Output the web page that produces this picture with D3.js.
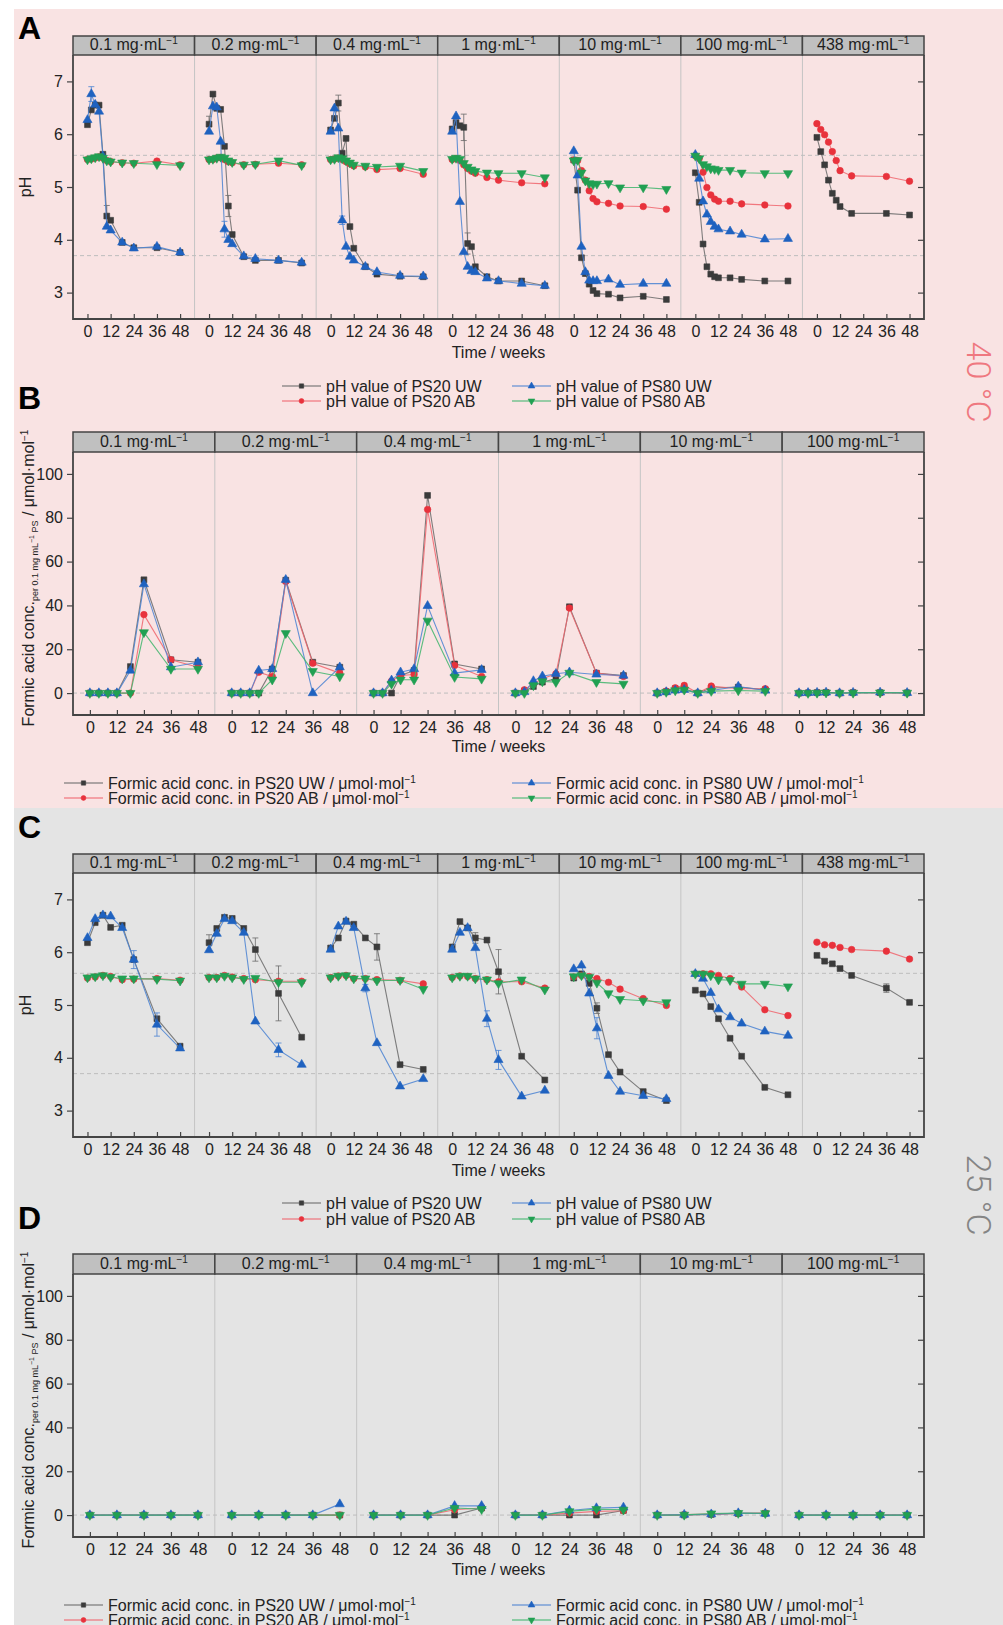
<!DOCTYPE html>
<html><head><meta charset="utf-8">
<script src="https://cdn.jsdelivr.net/npm/d3@7"></script>
<style>
body{margin:0;background:#fff;}
svg{display:block;font-family:"Liberation Sans",Arial,Helvetica,sans-serif;}
</style>
</head><body>
<svg id="c" width="1003" height="1625"></svg>
<script>
// ---------- time points (weeks) ----------
const tA = [0,2,4,6,8,10,12,18,24,36,48];
const tA438 = [0,2,4,6,8,10,12,18,36,48];
const tB = [0,4,8,12,18,24,36,48];
const tC = [0,4,8,12,18,24,36,48];
const tC438 = [0,4,8,12,18,36,48];
const tD = [0,12,24,36,48];
const xTicks = [0,12,24,36,48];
const pHTicks = [3,4,5,6,7];
const faTicks = [0,20,40,60,80,100];
const concPH = ["0.1","0.2","0.4","1","10","100","438"];
const concFA = ["0.1","0.2","0.4","1","10","100"];
const phLegend = ["pH value of PS20 UW","pH value of PS20 AB","pH value of PS80 UW","pH value of PS80 AB"];
const faLegend = ["Formic acid conc. in PS20 UW / μmol·mol","Formic acid conc. in PS20 AB / μmol·mol","Formic acid conc. in PS80 UW / μmol·mol","Formic acid conc. in PS80 AB / μmol·mol"];

// ---------- A: pH at 40 °C ----------
const A_PS20UW = [
 [6.18,6.46,6.55,6.55,5.62,4.45,4.37,3.95,3.85,3.85,3.76],
 [6.19,6.76,6.49,6.47,5.77,4.64,4.10,3.68,3.61,3.61,3.56],
 [6.08,6.30,6.59,5.64,5.92,4.25,3.84,3.49,3.35,3.31,3.30],
 [6.10,6.22,6.16,6.13,3.93,3.87,3.49,3.30,3.22,3.22,3.13],
 [5.51,4.94,3.66,3.36,3.16,3.04,2.98,2.97,2.90,2.93,2.87],
 [5.27,4.71,3.92,3.49,3.35,3.30,3.28,3.28,3.25,3.22,3.22],
 [5.94,5.67,5.42,5.13,4.88,4.75,4.63,4.50,4.50,4.47]
];
const A_PS20AB = [
 [5.52,5.53,5.55,5.57,5.55,5.50,5.48,5.46,5.45,5.49,5.42],
 [5.52,5.52,5.55,5.56,5.52,5.48,5.46,5.42,5.43,5.45,5.42],
 [5.52,5.53,5.55,5.52,5.48,5.44,5.40,5.38,5.33,5.35,5.24],
 [5.52,5.54,5.50,5.42,5.35,5.30,5.26,5.18,5.13,5.08,5.06],
 [5.51,5.50,5.31,5.13,4.93,4.78,4.72,4.69,4.64,4.63,4.58],
 [5.59,5.54,5.28,4.99,4.85,4.77,4.73,4.73,4.68,4.66,4.64],
 [6.20,6.09,5.99,5.85,5.67,5.50,5.31,5.21,5.20,5.11]
];
const A_PS80UW = [
 [6.27,6.76,6.56,6.43,5.58,4.25,4.18,3.95,3.84,3.87,3.76],
 [6.05,6.53,6.51,5.86,4.20,4.00,3.92,3.69,3.64,3.61,3.57],
 [6.05,6.49,6.11,4.37,3.87,3.68,3.61,3.49,3.39,3.32,3.31],
 [6.05,6.34,4.72,3.77,3.49,3.41,3.39,3.27,3.22,3.17,3.13],
 [5.68,5.22,3.87,3.39,3.23,3.22,3.22,3.25,3.15,3.17,3.17],
 [5.61,5.16,4.73,4.48,4.34,4.25,4.20,4.16,4.10,4.01,4.02],
 null
];
const A_PS80AB = [
 [5.52,5.54,5.56,5.58,5.55,5.50,5.48,5.46,5.45,5.43,5.41],
 [5.52,5.53,5.55,5.57,5.55,5.50,5.47,5.42,5.43,5.50,5.41],
 [5.52,5.53,5.56,5.54,5.50,5.46,5.42,5.40,5.38,5.40,5.30],
 [5.53,5.55,5.53,5.45,5.38,5.33,5.30,5.27,5.26,5.26,5.18],
 [5.50,5.51,5.27,5.12,5.07,5.05,5.06,5.07,4.99,4.99,4.96],
 [5.59,5.54,5.43,5.39,5.35,5.34,5.32,5.32,5.27,5.26,5.26],
 null
];
// error bars: [panel, point index, +/-]
const errA_PS20UW = [[0,5,0.2],[1,0,0.15],[1,5,0.2],[2,2,0.15],[3,3,0.25],[3,4,0.2]];
const errA_PS80UW = [[0,1,0.14],[1,4,0.15],[2,3,0.08]];

// ---------- B: formic acid at 40 °C ----------
const B_PS20UW = [
 [0,0,0,0,12.1,51.7,15.2,14.1],
 [0,0,0,0,11.0,51.5,14.1,11.8],
 [0,0,0,8.0,10.3,90.2,13.3,11.0],
 [0,0.9,3.0,5.0,6.5,39.4,9.1,8.0],
 [0,0.6,2.0,2.0,0,2.3,2.7,1.5],
 [0,0.1,0.2,0.3,0,0.2,0.2,0.1]
];
const B_PS20AB = [
 [0,0,0,0,0,35.8,15.2,11.8],
 [0,0,0,9.5,7.6,50.9,13.6,9.1],
 [0,0,5.5,8.0,8.5,83.8,12.6,7.6],
 [0,1.5,4.2,6.5,8.8,38.8,9.1,7.6],
 [0,0.9,2.4,3.5,0,3.2,2.0,2.0],
 [0,0.1,0.3,0.4,0,0.3,0.2,0.1]
];
const B_PS80UW = [
 [0,0,0,0,10.3,49.7,11.8,14.1],
 [0,0,0,10.3,11.0,51.7,0,11.8],
 [0,0,5.8,9.5,11.0,39.8,9.1,10.6],
 [0,0.5,5.5,7.7,8.8,9.5,8.5,8.0],
 [0,0.5,1.2,1.5,0,1.2,3.0,1.2],
 [0,0.1,0.2,0.3,0,0.2,0.3,0.1]
];
const B_PS80AB = [
 [0,0,0,0,0,27.7,11.0,11.0],
 [0,0,0,0,6.1,27.3,10.0,7.6],
 [0,0,4.2,6.1,6.1,33.0,7.3,6.5],
 [0,0,3.5,5.3,5.0,9.2,5.0,4.2],
 [0,0.5,1.2,1.5,0,0.9,1.2,0.9],
 [0,0,0.1,0.2,0,0.1,0.2,0.1]
];

// ---------- C: pH at 25 °C ----------
const C_PS20UW = [
 [6.18,6.56,6.70,6.47,6.51,5.86,4.74,4.22],
 [6.18,6.45,6.66,6.64,6.45,6.05,5.22,4.39],
 [6.08,6.27,6.59,6.53,6.27,6.10,3.87,3.78],
 [6.10,6.58,6.46,6.27,6.23,5.63,4.03,3.58],
 [5.51,5.59,5.41,4.94,4.06,3.73,3.36,3.19],
 [5.28,5.21,4.97,4.74,4.37,4.03,3.44,3.30],
 [5.94,5.83,5.78,5.69,5.56,5.32,5.05]
];
const C_PS20AB = [
 [5.51,5.53,5.56,5.54,5.48,5.49,5.50,5.47],
 [5.52,5.52,5.56,5.53,5.50,5.48,5.45,5.45],
 [5.52,5.55,5.56,5.50,5.50,5.48,5.47,5.40],
 [5.52,5.55,5.54,5.50,5.48,5.44,5.44,5.32],
 [5.53,5.56,5.54,5.50,5.43,5.30,5.12,4.99],
 [5.59,5.59,5.59,5.56,5.50,5.34,4.91,4.80],
 [6.19,6.14,6.13,6.09,6.05,6.02,5.87]
];
const C_PS80UW = [
 [6.27,6.63,6.70,6.68,6.46,5.86,4.63,4.18],
 [6.04,6.35,6.63,6.59,6.37,4.69,4.15,3.87],
 [6.05,6.49,6.58,6.46,5.32,4.28,3.46,3.60],
 [6.05,6.37,6.46,6.08,4.74,3.96,3.27,3.38],
 [5.68,5.75,5.22,4.56,3.66,3.36,3.28,3.22],
 [5.59,5.50,5.23,4.92,4.77,4.65,4.50,4.42],
 null
];
const C_PS80AB = [
 [5.52,5.54,5.56,5.53,5.50,5.50,5.49,5.46],
 [5.52,5.52,5.55,5.52,5.49,5.51,5.43,5.43],
 [5.52,5.55,5.56,5.50,5.50,5.46,5.47,5.30],
 [5.52,5.55,5.55,5.50,5.48,5.41,5.48,5.29],
 [5.54,5.56,5.53,5.42,5.22,5.11,5.08,5.05],
 [5.59,5.59,5.56,5.48,5.47,5.40,5.40,5.35],
 null
];
const errC_PS20UW = [[1,0,0.15],[1,5,0.22],[1,6,0.52],[2,5,0.25],[3,3,0.1],[3,5,0.42],[4,3,0.1],[6,5,0.08]];
const errC_PS80UW = [[0,5,0.17],[0,6,0.22],[1,6,0.13],[2,4,0.07],[3,4,0.15],[3,5,0.18],[4,3,0.2]];

// ---------- D: formic acid at 25 °C ----------
const D_PS20UW = [[0,0,0,0,0],[0,0,0,0,0],[0,0,0,0,3.2],[0,0,0,0,2.1],[0,0,0.3,0.7,0.8],[0,0,0,0,0]];
const D_PS20AB = [[0,0,0,0,0],[0,0,0,0,0],[0,0,0,2.4,3.2],[0,0,0.9,1.7,2.0],[0,0.2,0.5,0.8,0.9],[0,0,0,0.1,0]];
const D_PS80UW = [[0,0,0,0,0],[0,0,0,0,5.0],[0,0,0,4.2,4.2],[0,0,2.1,3.2,3.5],[0,0.2,0.4,0.9,0.7],[0,0,0,0,0]];
const D_PS80AB = [[0,0,0,0,0],[0,0,0,0,0],[0,0,0,3.2,2.7],[0,0,1.7,2.7,2.4],[0,0.1,0.7,0.9,0.8],[0,0,0,0,0]];

// ---------- drawing ----------
const svg = d3.select('#c');
svg.append('rect').attr('x',14).attr('y',9).attr('width',989).attr('height',799).attr('fill','#f9e3e3');
svg.append('rect').attr('x',14).attr('y',808).attr('width',989).attr('height',817).attr('fill','#e4e4e4');

const STY = {
  PS20UW:{line:'#6a6a6a', fill:'#3b3b3b', sym:d3.symbolSquare, size:34, rot:0},
  PS20AB:{line:'#f0646c', fill:'#e8323c', sym:d3.symbolCircle, size:34, rot:0},
  PS80UW:{line:'#4a82d2', fill:'#1f62c0', sym:d3.symbolTriangle, size:36, rot:0},
  PS80AB:{line:'#3fb56c', fill:'#21a052', sym:d3.symbolTriangle, size:36, rot:180}
};
const FONT = 16;

function marker(g, st, x, y, scale){
  scale = scale||1;
  g.append('path').attr('d', d3.symbol().type(st.sym).size(st.size*scale)())
   .attr('transform', `translate(${x},${y}) rotate(${st.rot})`)
   .attr('fill', st.fill).attr('stroke', st.fill).attr('stroke-width',0.6);
}

function drawChart(cfg){
  const g = svg.append('g');
  const n = cfg.panels.length;
  const x0 = 73, x1 = 924, pw = (x1-x0)/n;
  const y = d3.scaleLinear().domain(cfg.yDomain).range([cfg.plotBottom, cfg.plotTop]);
  const xs = d3.range(n).map(i => d3.scaleLinear().domain([-7.5,55.5]).range([x0+i*pw, x0+(i+1)*pw]));

  // panel separators
  for(let i=1;i<n;i++){
    g.append('line').attr('x1',x0+i*pw).attr('x2',x0+i*pw).attr('y1',cfg.plotTop).attr('y2',cfg.plotBottom)
     .attr('stroke','#c4c4c4').attr('stroke-width',1);
  }
  // dashed reference lines
  cfg.dashes.forEach(v=>{
    g.append('line').attr('x1',x0).attr('x2',x1).attr('y1',y(v)).attr('y2',y(v))
     .attr('stroke','#bdbdbd').attr('stroke-width',1).attr('stroke-dasharray','4,3');
  });
  // x axes
  xs.forEach(x=>{
    const ax = g.append('g').attr('transform',`translate(0,${cfg.plotBottom})`)
      .call(d3.axisBottom(x).tickValues(xTicks).tickFormat(d3.format('d')).tickSizeInner(-5).tickSizeOuter(0).tickPadding(7));
    ax.select('.domain').remove();
    ax.selectAll('line').attr('stroke','#444').attr('stroke-width',1.2);
    ax.selectAll('text').attr('font-size',FONT).attr('fill','#222').attr('font-family','"Liberation Sans",Arial,sans-serif');
  });
  // left axis
  const ly = g.append('g').attr('transform',`translate(${x0},0)`)
    .call(d3.axisLeft(y).tickValues(cfg.yTicks).tickFormat(d3.format('d')).tickSize(6).tickPadding(4));
  ly.select('.domain').remove();
  ly.selectAll('line').attr('stroke','#444').attr('stroke-width',1.2);
  ly.selectAll('text').attr('font-size',FONT).attr('fill','#222').attr('font-family','"Liberation Sans",Arial,sans-serif');
  // right axis (inward ticks)
  const ry = g.append('g').attr('transform',`translate(${x1},0)`)
    .call(d3.axisLeft(y).tickValues(cfg.yTicks).tickSize(6));
  ry.select('.domain').remove();
  ry.selectAll('text').remove();
  ry.selectAll('line').attr('stroke','#444').attr('stroke-width',1.2);
  // frame
  g.append('path').attr('d',`M${x0},${cfg.plotTop}V${cfg.plotBottom}H${x1}V${cfg.plotTop}`)
   .attr('fill','none').attr('stroke','#444').attr('stroke-width',1.8);
  // strips
  cfg.panels.forEach((lab,i)=>{
    g.append('rect').attr('x',x0+i*pw).attr('y',cfg.stripTop).attr('width',pw).attr('height',cfg.plotTop-cfg.stripTop)
     .attr('fill','#c0c0c0').attr('stroke','#444').attr('stroke-width',1.5);
    const t = g.append('text').attr('x',x0+i*pw+pw/2).attr('y',cfg.plotTop-5).attr('text-anchor','middle')
      .attr('font-size',FONT).attr('fill','#1e1e1e');
    t.append('tspan').text(lab+' mg·mL');
    t.append('tspan').text('−1').attr('font-size',10).attr('dy',-6);
  });
  // series
  cfg.series.forEach(s=>{
    const st = STY[s.key];
    s.data.forEach((vals,i)=>{
      if(!vals) return;
      const ts = cfg.times[i];
      const x = xs[i];
      const pts = vals.map((v,k)=>[x(ts[k]), y(v)]);
      g.append('path').attr('d', d3.line()(pts)).attr('fill','none')
       .attr('stroke',st.line).attr('stroke-width',1.1).attr('stroke-opacity',0.85);
    });
    (s.err||[]).forEach(([p,k,e])=>{
      const v = s.data[p][k], xx = xs[p](cfg.times[p][k]);
      const eg = g.append('g').attr('stroke',st.line).attr('stroke-width',1).attr('stroke-opacity',0.8);
      eg.append('line').attr('x1',xx).attr('x2',xx).attr('y1',y(v-e)).attr('y2',y(v+e));
      eg.append('line').attr('x1',xx-3).attr('x2',xx+3).attr('y1',y(v-e)).attr('y2',y(v-e));
      eg.append('line').attr('x1',xx-3).attr('x2',xx+3).attr('y1',y(v+e)).attr('y2',y(v+e));
    });
    s.data.forEach((vals,i)=>{
      if(!vals) return;
      const ts = cfg.times[i];
      vals.forEach((v,k)=> marker(g, st, xs[i](ts[k]), y(v)));
    });
  });
  // x title
  g.append('text').attr('x',(x0+x1)/2).attr('y',cfg.timeY).attr('text-anchor','middle')
   .attr('font-size',FONT).attr('fill','#222').text('Time / weeks');
  // legend
  const keys = ['PS20UW','PS20AB','PS80UW','PS80AB'];
  keys.forEach((k,j)=>{
    const col = j<2?0:1, row = j%2;
    const lx = cfg.legX[col], ry2 = cfg.legY[row];
    const st = STY[k];
    g.append('line').attr('x1',lx).attr('x2',lx+39).attr('y1',ry2).attr('y2',ry2)
     .attr('stroke',st.line).attr('stroke-width',1.4).attr('stroke-opacity',0.7);
    marker(g, st, lx+19.5, ry2, 0.55);
    const t = g.append('text').attr('x',lx+44).attr('y',ry2+5.5).attr('font-size',FONT).attr('fill','#222');
    t.append('tspan').text(cfg.legend[j]);
    if(cfg.legSup){ t.append('tspan').text('−1').attr('font-size',10).attr('dy',-6); }
  });
  return {y};
}

function yLabelPH(cy){
  svg.append('text').attr('transform',`translate(31,${cy}) rotate(-90)`).attr('text-anchor','middle')
   .attr('font-size',FONT).attr('fill','#222').text('pH');
}
function yLabelFA(cy){
  const t = svg.append('text').attr('transform',`translate(34,${cy}) rotate(-90)`).attr('text-anchor','middle')
   .attr('font-size',FONT).attr('fill','#222');
  t.append('tspan').text('Formic acid conc.');
  t.append('tspan').text('per 0.1 mg mL').attr('font-size',9).attr('dy',4);
  t.append('tspan').text('−1').attr('font-size',7).attr('dy',-4);
  t.append('tspan').text(' PS').attr('font-size',9).attr('dy',4);
  t.append('tspan').text(' / μmol·mol').attr('font-size',FONT).attr('dy',-4);
  t.append('tspan').text('−1').attr('font-size',10).attr('dy',-6);
}
function panelLetter(l, yb){
  svg.append('text').attr('x',18).attr('y',yb).attr('font-size',32).attr('font-weight','bold').attr('fill','#000').text(l);
}

// A
drawChart({stripTop:36, plotTop:55, plotBottom:319, panels:concPH, times:[tA,tA,tA,tA,tA,tA,tA438],
  yDomain:[2.5,7.5], yTicks:pHTicks, dashes:[5.6,3.7], timeY:358,
  series:[{key:'PS20UW',data:A_PS20UW,err:errA_PS20UW},{key:'PS20AB',data:A_PS20AB},{key:'PS80UW',data:A_PS80UW,err:errA_PS80UW},{key:'PS80AB',data:A_PS80AB}],
  legend:phLegend, legX:[282,512], legY:[386,401], legSup:false});
// B
drawChart({stripTop:432, plotTop:452, plotBottom:715, panels:concFA, times:[tB,tB,tB,tB,tB,tB],
  yDomain:[-10,110], yTicks:faTicks, dashes:[0], timeY:752,
  series:[{key:'PS20UW',data:B_PS20UW},{key:'PS20AB',data:B_PS20AB},{key:'PS80UW',data:B_PS80UW},{key:'PS80AB',data:B_PS80AB}],
  legend:faLegend, legX:[64,512], legY:[783,798], legSup:true});
// C
drawChart({stripTop:854, plotTop:873, plotBottom:1137, panels:concPH, times:[tC,tC,tC,tC,tC,tC,tC438],
  yDomain:[2.5,7.5], yTicks:pHTicks, dashes:[5.6,3.7], timeY:1176,
  series:[{key:'PS20UW',data:C_PS20UW,err:errC_PS20UW},{key:'PS20AB',data:C_PS20AB},{key:'PS80UW',data:C_PS80UW,err:errC_PS80UW},{key:'PS80AB',data:C_PS80AB}],
  legend:phLegend, legX:[282,512], legY:[1203,1219], legSup:false});
// D
drawChart({stripTop:1254, plotTop:1274, plotBottom:1537, panels:concFA, times:[tD,tD,tD,tD,tD,tD],
  yDomain:[-10,110], yTicks:faTicks, dashes:[0], timeY:1575,
  series:[{key:'PS20UW',data:D_PS20UW},{key:'PS20AB',data:D_PS20AB},{key:'PS80UW',data:D_PS80UW},{key:'PS80AB',data:D_PS80AB}],
  legend:faLegend, legX:[64,512], legY:[1605,1620], legSup:true});

yLabelPH(187); yLabelPH(1005);
yLabelFA(578); yLabelFA(1400);
panelLetter('A',39); panelLetter('B',409); panelLetter('C',838); panelLetter('D',1229);

svg.append('text').attr('transform','translate(979,382) rotate(90)').attr('text-anchor','middle')
  .attr('dominant-baseline','central').attr('font-size',34).attr('font-weight',300)
  .attr('font-family','Roboto,"Liberation Sans",Arial,sans-serif').attr('fill','#ef7880').text('40 °C');
svg.append('text').attr('transform','translate(979,1195) rotate(90)').attr('text-anchor','middle')
  .attr('dominant-baseline','central').attr('font-size',34).attr('font-weight',300)
  .attr('font-family','Roboto,"Liberation Sans",Arial,sans-serif').attr('fill','#858585').text('25 °C');
</script>
</body></html>
